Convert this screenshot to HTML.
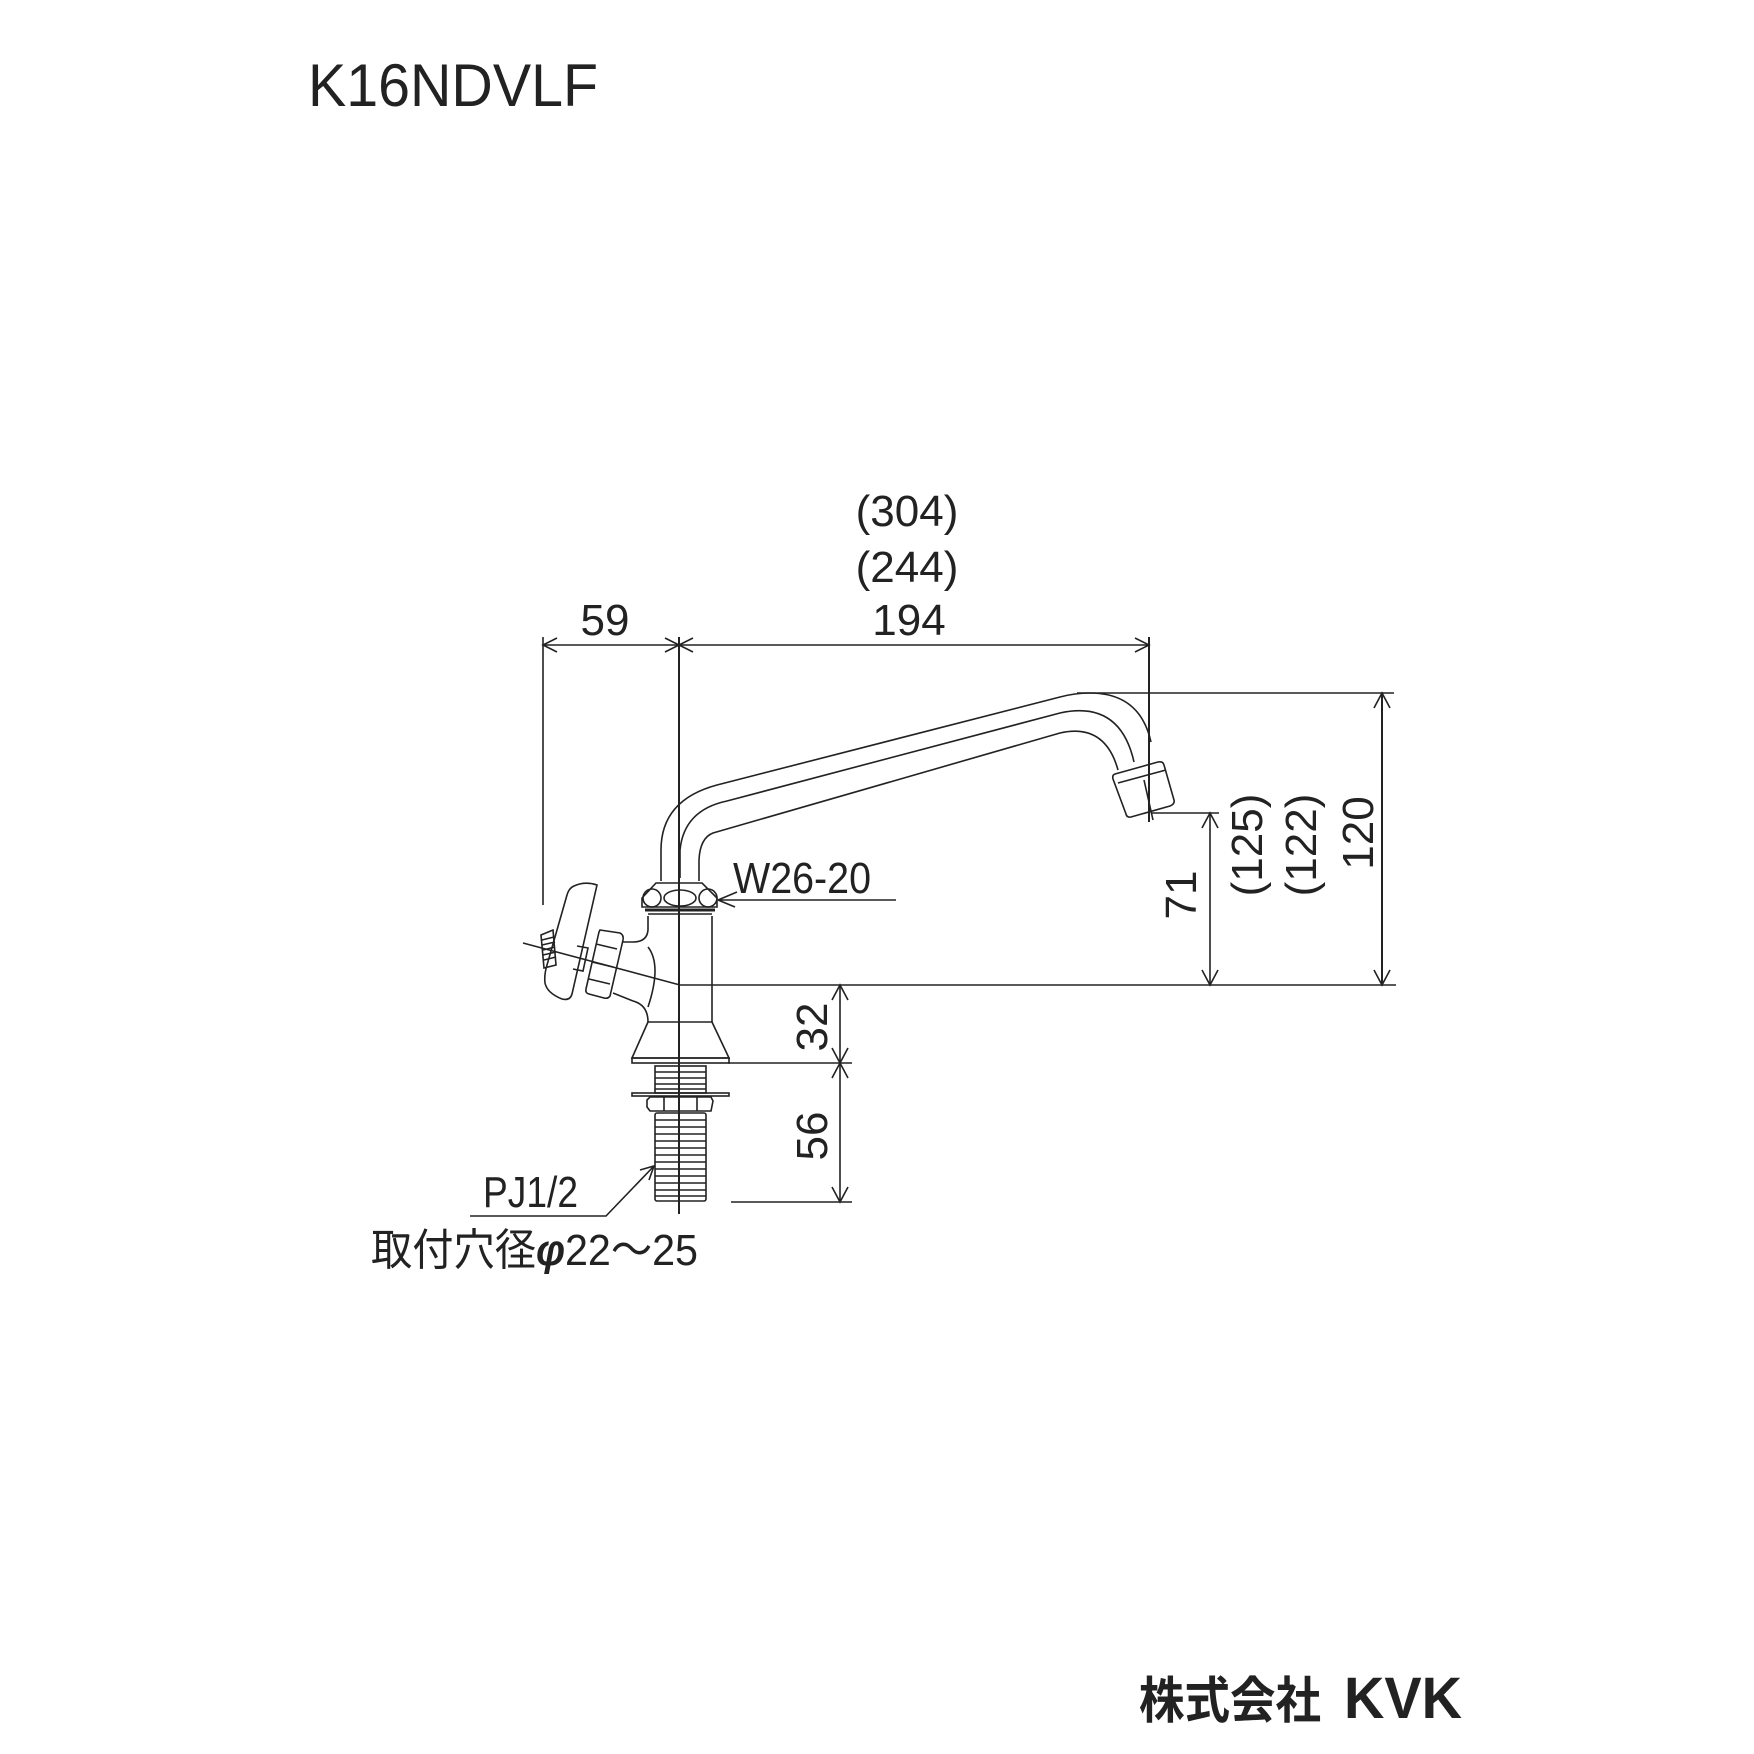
<!DOCTYPE html>
<html><head><meta charset="utf-8"><style>
html,body{margin:0;padding:0;background:#fff;}
svg{display:block}
text{font-family:"Liberation Sans","Noto Sans CJK JP",sans-serif;fill:#222}
</style></head><body>
<svg width="1754" height="1754" viewBox="0 0 1754 1754" xmlns="http://www.w3.org/2000/svg">
<text x="308" y="106" font-size="60" textLength="290" lengthAdjust="spacingAndGlyphs">K16NDVLF</text>

<g fill="none" stroke="#222" stroke-width="1.6">
<!-- dimension top -->
<line x1="543" y1="645" x2="1149" y2="645"/>
<line x1="543" y1="637" x2="543" y2="905"/>
<line x1="679" y1="637" x2="679" y2="1214" stroke-width="2"/>
<line x1="1149" y1="637" x2="1149" y2="822" stroke-width="2"/>
<path d="M557 638 L543 645 L557 652 M665 638 L679 645 L665 652 M693 638 L679 645 L693 652 M1135 638 L1149 645 L1135 652"/>
<!-- right dims -->
<line x1="1077" y1="693" x2="1394" y2="693"/>
<line x1="1382" y1="693" x2="1382" y2="985" stroke-width="2"/>
<path d="M1374 708 L1382 693 L1390 708 M1374 970 L1382 985 L1390 970"/>
<line x1="1152" y1="813" x2="1219" y2="813"/>
<line x1="1210" y1="813" x2="1210" y2="985"/>
<path d="M1202 828 L1210 813 L1218 828 M1202 970 L1210 985 L1218 970"/>
<line x1="680" y1="985" x2="1396" y2="985"/>
<!-- lower dims -->
<line x1="840" y1="985" x2="840" y2="1202"/>
<path d="M832 1000 L840 985 L848 1000 M832 1048 L840 1063 L848 1048 M832 1078 L840 1063 L848 1078 M832 1187 L840 1202 L848 1187"/>
<line x1="728" y1="1063" x2="852" y2="1063"/>
<line x1="731" y1="1202" x2="852" y2="1202"/>
<!-- W26-20 leader -->
<path d="M718 900 L896 900 M718 900 L737 892 M718 900 L735 907"/>
<!-- PJ leader -->
<path d="M470 1216 L606 1216 L654 1166 M640 1170 L654 1166 L649 1180"/>
<!-- knob leader -->
<line x1="523" y1="943" x2="680" y2="985"/>

<!-- spout -->
<path d="M661 881 L661 850 Q661 800 717 785 L1060 697 Q1075 693 1090 693 Q1140 693 1151 742"/>
<path d="M680 878 L680 850 Q684 810 727 801 L1060 713 Q1120 700 1134 762"/>
<path d="M699 881 L699 860 Q700 838 713 833 L1060 733 Q1105 723 1118 770"/>
<!-- aerator -->
<path d="M1115 774 L1158 762 Q1163 761 1164 765 L1174 800 Q1175 804 1170 806 L1131 817 Q1127 818 1126 814 L1113 779 Q1112 775 1115 774 Z"/>
<line x1="1118" y1="783" x2="1166" y2="770"/>
<line x1="1144" y1="780" x2="1153" y2="820"/>

<!-- nut -->
<path d="M642 898 L656 883 L702 883 L717 898 L717 907 L642 907 Z"/>
<ellipse cx="652" cy="898" rx="9" ry="9"/>
<ellipse cx="680" cy="898" rx="16" ry="8"/>
<ellipse cx="708" cy="898" rx="9" ry="9"/>
<line x1="645" y1="910" x2="715" y2="910" stroke-width="3"/>
<line x1="648" y1="914" x2="712" y2="914"/>
<!-- body -->
<line x1="712" y1="916" x2="712" y2="1022"/>
<path d="M648 916 L648 930 Q647 942 633 942 L622 942"/>
<path d="M613 993 L633 1001 Q648 1005 648 1022"/>
<path d="M648 947 Q662 965 648 1007"/>
<line x1="648" y1="1022" x2="712" y2="1022"/>
<path d="M648 1022 L632 1058 L729 1058 L712 1022"/>
<rect x="632" y="1058" width="97" height="5"/>
<!-- thread upper -->
<rect x="655" y="1066" width="51" height="27"/>
<path d="M655 1072 H706 M655 1078 H706 M655 1084 H706 M655 1089 H706"/>
<rect x="632" y="1093" width="97" height="3"/>
<path d="M650 1097 H711 L713 1101 L711 1111 H650 L647 1107 L647 1100 Z M664 1097 V1111 M697 1097 V1111"/>
<rect x="655" y="1113" width="51" height="88" rx="2"/>
<path d="M655 1120 H706 M655 1127 H706 M655 1134 H706 M655 1141 H706 M655 1148 H706 M655 1155 H706 M655 1162 H706 M655 1169 H706 M655 1176 H706 M655 1183 H706 M655 1190 H706 M655 1196 H706"/>

<!-- handle -->
<path d="M574 886 Q585 881 597 885 L572 994 Q570 1001 562 999 Q547 993 545 983 Q544 975 547 965 L567 895 Q569 888 574 886 Z"/>
<path d="M541 935 L553 930 L556 965 L544 968 Z"/>
<path d="M542 940 L554 937 M542 945 L555 942 M543 950 L555 947 M543 955 L556 952 M544 960 L556 957"/>
<path d="M577 946 L588 948 L583 971 L573 969"/>
<path d="M600 930 L620 933 Q624 935 623 940 L610 996 Q608 999 604 998 L589 994 Q585 993 586 989 L599 932 Z"/>
<path d="M596 944 L617 949 M592 962 L613 967 M589 979 L610 984"/>
</g>

<g font-size="44">
<text x="907" y="526" text-anchor="middle">(304)</text>
<text x="907" y="582" text-anchor="middle">(244)</text>
<text x="909" y="635" text-anchor="middle">194</text>
<text x="605" y="635" text-anchor="middle">59</text>
<text x="733" y="893" textLength="138" lengthAdjust="spacingAndGlyphs">W26-20</text>
<text transform="translate(1196,895) rotate(-90)" text-anchor="middle">71</text>
<text transform="translate(1262,845) rotate(-90)" text-anchor="middle">(125)</text>
<text transform="translate(1316,845) rotate(-90)" text-anchor="middle">(122)</text>
<text transform="translate(1373,833) rotate(-90)" text-anchor="middle">120</text>
<text transform="translate(827,1027) rotate(-90)" text-anchor="middle">32</text>
<text transform="translate(827,1136) rotate(-90)" text-anchor="middle">56</text>
<text x="483" y="1207" textLength="95" lengthAdjust="spacingAndGlyphs">PJ1/2</text>
<text x="371" y="1265" textLength="327" lengthAdjust="spacingAndGlyphs">取付穴径<tspan font-style="italic" font-weight="bold">φ</tspan>22～25</text>
</g>
<text x="1139" y="1718" font-size="50" font-weight="bold" textLength="182" lengthAdjust="spacingAndGlyphs">株式会社</text>
<text x="1344" y="1718" font-size="58" font-weight="900" fill="#111" textLength="118" lengthAdjust="spacingAndGlyphs">KVK</text>
</svg>
</body></html>
